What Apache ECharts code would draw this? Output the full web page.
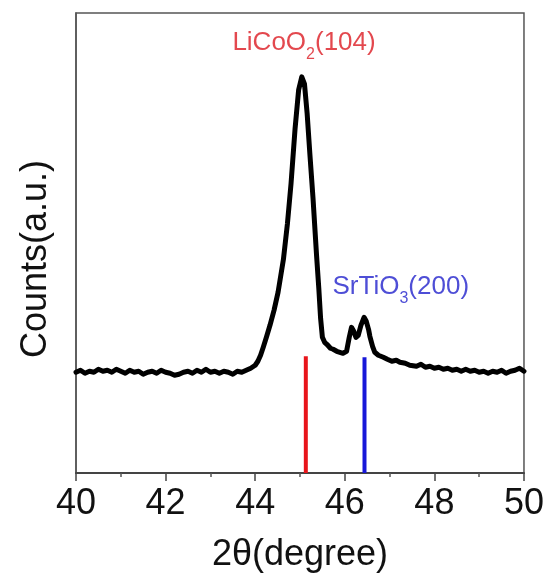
<!DOCTYPE html>
<html>
<head>
<meta charset="utf-8">
<script src="https://cdn.jsdelivr.net/npm/echarts@6/dist/echarts.min.js"></script>
<style>
  html, body { margin: 0; padding: 0; background: #fff; }
  #xrd { width: 547px; height: 578px; }
</style>
</head>
<body>
<div id="xrd"></div>
<script>
  // 2θ (degree) and counts (arb. units)
  const twoTheta = [
    40.0, 40.1, 40.2, 40.3, 40.4, 40.5, 40.6, 40.7, 40.8, 40.9,
    41.0, 41.1, 41.2, 41.3, 41.4, 41.5, 41.6, 41.7, 41.8, 41.9,
    42.0, 42.1, 42.2, 42.3, 42.4, 42.5, 42.6, 42.7, 42.8, 42.9,
    43.0, 43.1, 43.2, 43.3, 43.4, 43.5, 43.6, 43.7, 43.8, 43.9,
    44.0, 44.06, 44.12, 44.18, 44.25, 44.33, 44.42, 44.51, 44.63, 44.72,
    44.8, 44.89, 44.97, 45.04, 45.1, 45.16, 45.22, 45.29, 45.37, 45.42,
    45.46, 45.5, 45.55, 45.6, 45.68, 45.74, 45.82, 45.89, 45.96, 46.04,
    46.1, 46.15, 46.2, 46.25, 46.3, 46.36, 46.43, 46.48, 46.53, 46.56,
    46.62, 46.67, 46.75, 46.86, 46.95, 47.05, 47.15, 47.23, 47.35, 47.45,
    47.6, 47.7, 47.8, 47.9, 48.0, 48.1, 48.2, 48.3, 48.4, 48.5,
    48.6, 48.7, 48.8, 48.9, 49.0, 49.1, 49.2, 49.3, 49.4, 49.5,
    49.6, 49.7, 49.8, 49.9, 50.0
  ]
  const counts = [
    101, 103, 100, 102, 101, 104, 102, 103, 101, 104,
    102, 100, 103, 101, 102, 99, 101, 102, 100, 103,
    101, 100, 98, 99, 101, 102, 100, 103, 101, 104,
    101, 102, 100, 102, 101, 99, 102, 101, 103, 105,
    108, 112, 118, 126, 136, 148, 163, 181, 214, 250,
    290, 345, 384, 397, 390, 360, 320, 276, 218, 185,
    155, 136, 131, 129, 125, 124, 122, 121, 120, 122,
    136, 146, 142, 136, 138, 148, 156, 152, 144, 137,
    127, 121, 118, 116, 114, 112, 113, 111, 110, 108,
    107, 109, 106, 107, 105, 106, 104, 105, 103, 104,
    102, 104, 102, 103, 101, 102, 100, 102, 101, 103,
    100, 102, 103, 105, 102
  ]
  // reference peak positions (2θ) and stick heights
  const refPeaks = [45.13, 46.44]
  const refHeights = [117, 116]
  const xTicks = { min: 40, max: 50, interval: 2 }

  const chart = echarts.init(document.getElementById('xrd'))
  const font = 'Liberation Sans, Arial, sans-serif'

  chart.setOption({
    animation: false,
    grid: {
      left: 76, right: 23, top: 13, bottom: 104,
      show: true, borderColor: '#555', borderWidth: 1.5
    },
    xAxis: {
      type: 'value',
      min: xTicks.min, max: xTicks.max, interval: xTicks.interval,
      name: '2θ(degree)',
      nameLocation: 'middle',
      nameGap: 64,
      nameTextStyle: { fontFamily: font, fontSize: 36, color: '#111' },
      axisLine: { lineStyle: { color: '#444', width: 2 } },
      axisTick: { length: 8, lineStyle: { color: '#444', width: 1.5 } },
      minorTick: { show: true, splitNumber: 2, length: 4, lineStyle: { color: '#555', width: 1.5 } },
      axisLabel: { fontFamily: font, fontSize: 36, color: '#111', margin: 13 },
      splitLine: { show: false }
    },
    yAxis: {
      type: 'value',
      min: 0, max: 461,
      name: 'Counts(a.u.)',
      nameLocation: 'middle',
      nameGap: 22,
      nameTextStyle: { fontFamily: font, fontSize: 36, color: '#111', padding: [0, 32, 0, 0] },
      axisLine: { lineStyle: { color: '#555', width: 1.5 } },
      axisTick: { show: false },
      axisLabel: { show: false },
      splitLine: { show: false }
    },
    series: [
      {
        type: 'line',
        data: twoTheta.map((t, i) => [t, counts[i]]),
        symbol: 'none',
        lineStyle: { color: '#000', width: 5, join: 'round', cap: 'round' },
        z: 3
      },
      {
        type: 'line',
        data: [[refPeaks[0], 0], [refPeaks[0], refHeights[0]]],
        symbol: 'none',
        lineStyle: { color: '#e8151b', width: 4 },
        z: 2
      },
      {
        type: 'line',
        data: [[refPeaks[1], 0], [refPeaks[1], refHeights[1]]],
        symbol: 'none',
        lineStyle: { color: '#1717d9', width: 4 },
        z: 2
      },
      {
        type: 'scatter',
        symbolSize: 0,
        silent: true,
        data: [
          { value: [45.09, 431.5], label: { formatter: '{m|LiCoO}{s|2}{m|(104)}', color: '#dc1a22' } },
          { value: [47.25, 186.7], label: { formatter: '{m|SrTiO}{s|3}{m|(200)}', color: '#2222cc' } }
        ],
        label: {
          show: true,
          position: 'inside',
          rich: {
            m: { fontFamily: font, fontSize: 26, lineHeight: 40 },
            s: { fontFamily: font, fontSize: 16, lineHeight: 16, verticalAlign: 'bottom' }
          }
        }
      }
    ]
  })
</script>
</body>
</html>
